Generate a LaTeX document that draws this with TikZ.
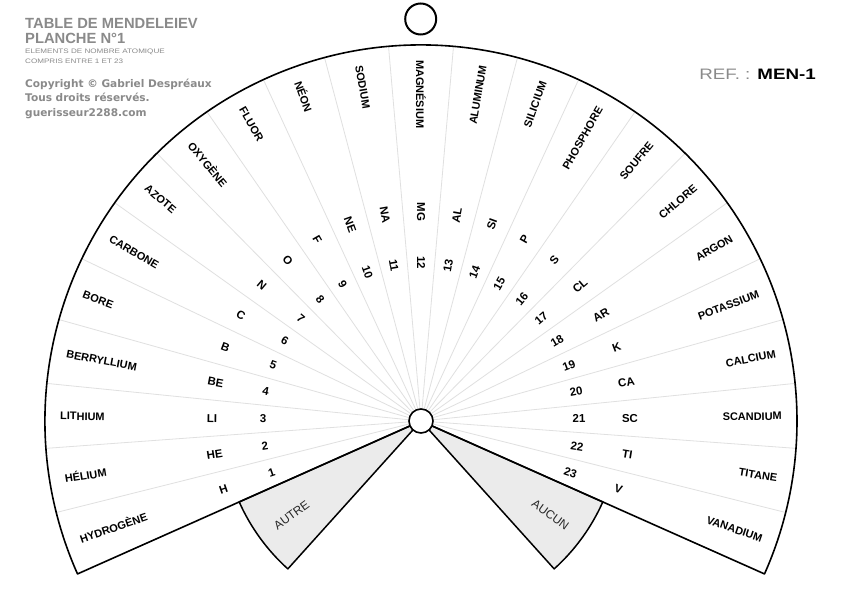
\documentclass[tikz,border=0pt]{standalone}
\usepackage{fontspec}
\usepackage{graphicx}
\setmainfont{Liberation Sans}
\newfontfamily\dvfont{DejaVu Sans}
\newfontfamily\widefont[FakeStretch=1.25]{Liberation Sans}
\definecolor{hdrgray}{HTML}{8A8A8A}
\definecolor{secgray}{HTML}{EBEBEB}
\definecolor{divgray}{HTML}{E0E0E0}
\begin{document}
\begin{tikzpicture}[x=1bp,y=1bp,
  namelbl/.style={font=\bfseries\fontsize{11}{13}\selectfont, inner sep=0pt, text=black},
  lbl/.style={font=\bfseries\fontsize{11.5}{13}\selectfont, inner sep=0pt, text=black},
  greylbl/.style={font=\fontsize{12}{14}\selectfont, inner sep=0pt, text=black!85},
  divider/.style={draw=divgray, line width=0.8bp},
  edgeline/.style={draw=black, line width=1.6bp, line join=round},
  greysec/.style={fill=secgray, draw=black, line width=1.5bp, line join=round},
  hdr/.style={inner sep=0pt, anchor=base west, text=hdrgray}]
\useasboundingbox (0,0) rectangle (842,-595);
\fill[white] (0,0) rectangle (842,-595);

% header
\node[hdr, font=\bfseries\fontsize{14.8}{16}\selectfont] (t1) at (25,-28.3) {TABLE DE MENDELEIEV};
\node[hdr, font=\bfseries\fontsize{14.8}{16}\selectfont] (t2) at (25,-43.3) {PLANCHE N°1};
\node[hdr, font=\widefont\fontsize{6.5}{8}\selectfont] (t3) at (25,-54) {ELEMENTS DE NOMBRE ATOMIQUE};
\node[hdr, font=\widefont\fontsize{6.5}{8}\selectfont] (t4) at (25,-63.3) {COMPRIS ENTRE 1 ET 23};
\node[hdr, font=\dvfont\bfseries\fontsize{10.6}{12}\selectfont] (c1) at (25,-87.3) {Copyright © Gabriel Despréaux};
\node[hdr, font=\dvfont\bfseries\fontsize{10.6}{12}\selectfont] (c2) at (25,-101.7) {Tous droits réservés.};
\node[hdr, font=\dvfont\bfseries\fontsize{10.6}{12}\selectfont] (c3) at (25,-116.7) {guerisseur2288.com};
\node[inner sep=0pt, anchor=base east, font=\fontsize{15.2}{17}\selectfont] (ref) at (816,-79.3)
  {\scalebox{1.24}[1]{\textcolor{hdrgray}{REF. :} \textbf{MEN-1}}};

% ring
\draw[line width=2bp] (420.7,-19) circle[radius=15.5];

\begin{scope}[shift={(421,-421)}]
  % grey sectors
  \path[greysec] (204:12) -- (204:199) arc[start angle=204, end angle=228, radius=199] -- (228:12) -- cycle;
  \path[greysec] (-24:12) -- (-24:199) arc[start angle=-24, end angle=-48, radius=199] -- (-48:12) -- cycle;
  \node[greylbl, rotate=36] (autre) at (216:160) {AUTRE};
  \node[greylbl, rotate=-36] (aucun) at (-36:160) {AUCUN};
  % dividers
  \foreach \i in {1,...,22} {
    \pgfmathsetmacro\d{204-\i*228/23}
    \draw[divider] (\d:12) -- (\d:376);
  }
  % outline
  \draw[edgeline] (204:12) -- (204:376) arc[start angle=204, end angle=-24, radius=376] -- (-24:12);
  \draw[line width=1.6bp, fill=white] (0,0) circle[radius=12];
  % labels
  \foreach \i/\nm/\sy in {1/HYDROGÈNE/H, 2/HÉLIUM/HE, 3/LITHIUM/LI, 4/BERRYLLIUM/BE, 5/BORE/B,
      6/CARBONE/C, 7/AZOTE/N, 8/OXYGÈNE/O, 9/FLUOR/F, 10/NÉON/NE, 11/SODIUM/NA,
      12/MAGNÉSIUM/MG, 13/ALUMINUM/AL, 14/SILICIUM/SI, 15/PHOSPHORE/P, 16/SOUFRE/S,
      17/CHLORE/CL, 18/ARGON/AR, 19/POTASSIUM/K, 20/CALCIUM/CA, 21/SCANDIUM/SC,
      22/TITANE/TI, 23/VANADIUM/V} {
    \pgfmathsetmacro\a{204-(\i-0.5)*228/23}
    \pgfmathsetmacro\b{\a-180}
    \ifnum\i<13
      \node[namelbl, rotate=\b, anchor=west] (n\i) at (\a:361) {\nm};
      \node[lbl, rotate=\b] (s\i) at (\a:209) {\sy};
      \node[lbl, rotate=\b] (z\i) at (\a:158) {\i};
    \else
      \node[namelbl, rotate=\a, anchor=east] (n\i) at (\a:361) {\nm};
      \node[lbl, rotate=\a] (s\i) at (\a:209) {\sy};
      \node[lbl, rotate=\a] (z\i) at (\a:158) {\i};
    \fi
  }
\end{scope}
\end{tikzpicture}
\end{document}
